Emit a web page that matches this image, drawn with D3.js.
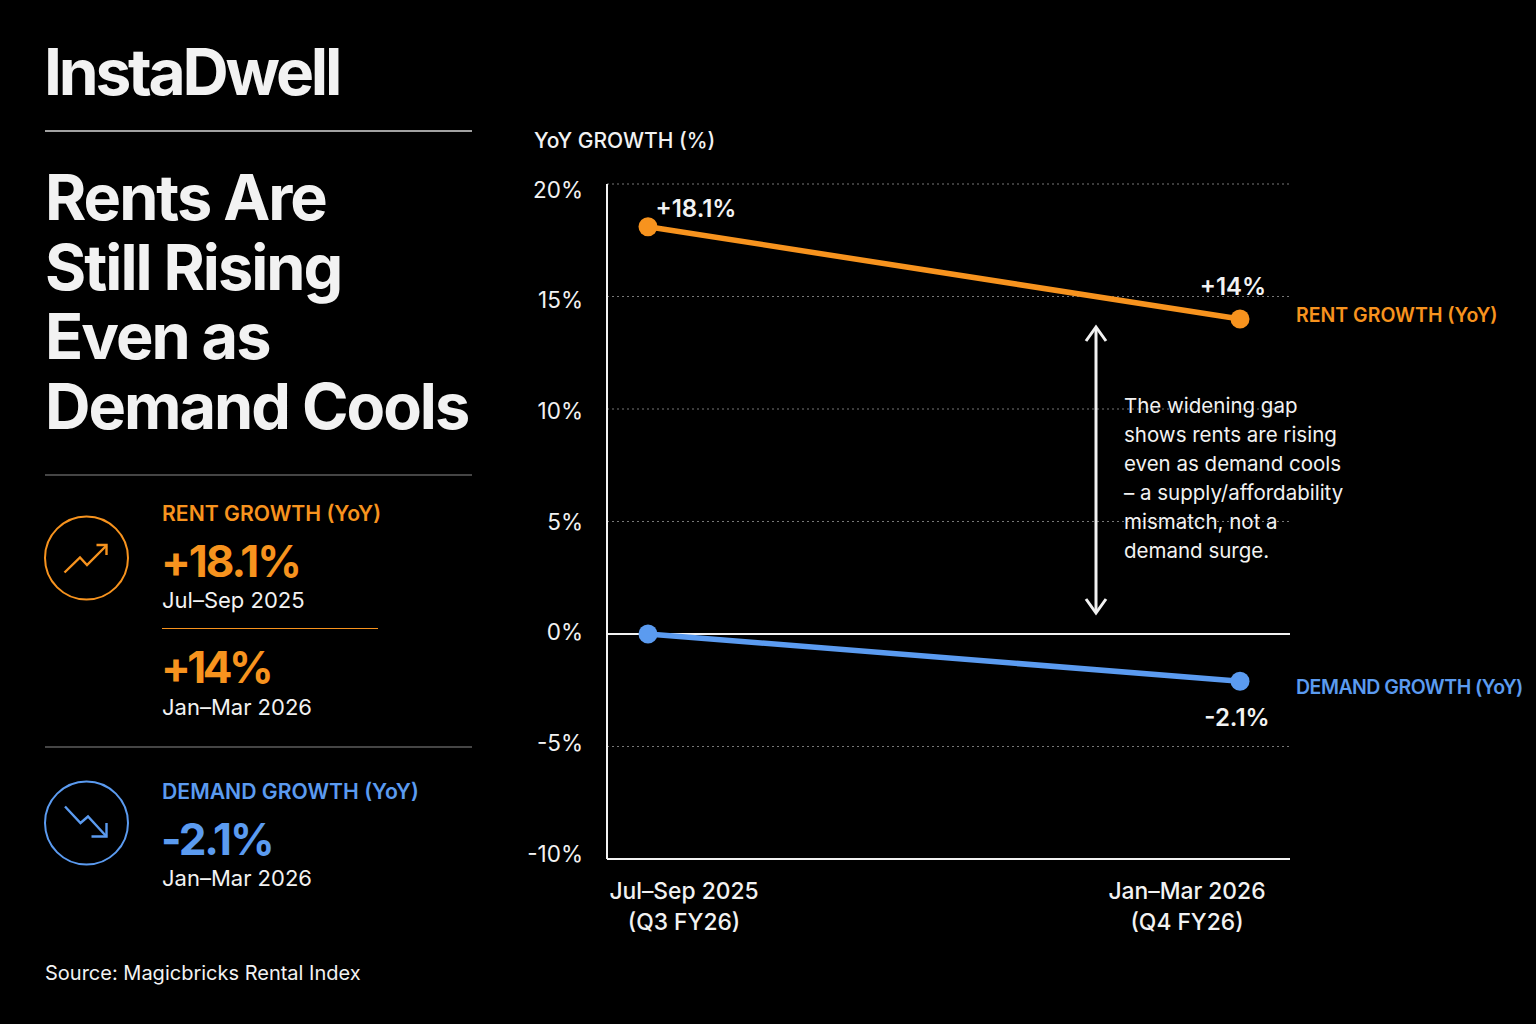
<!DOCTYPE html>
<html><head><meta charset="utf-8">
<script src="https://cdn.jsdelivr.net/npm/d3@7"></script>
<style>
html,body{margin:0;padding:0;background:#000;}
svg{display:block;font-family:Inter,"Noto Sans",sans-serif;}
</style></head>
<body>
<svg id="c" width="1536" height="1024"></svg>
<script>
// ---- data ----
const categories = ["Jul–Sep 2025", "Jan–Mar 2026"];
const categorySub = ["(Q3 FY26)", "(Q4 FY26)"];
const rentGrowth = [18.1, 14];
const demandGrowth = [0, -2.1];
const rentLabels = ["+18.1%", "+14%"];
const demandLabels = ["", "-2.1%"];
const yTicks = [-10, -5, 0, 5, 10, 15, 20];
const noteLines = ["The widening gap", "shows rents are rising", "even as demand cools",
  "– a supply/affordability", "mismatch, not a", "demand surge."];

const ORANGE = "#F7931E", BLUE = "#5B9BF0", WHITE = "#F2F2F2";
const svg = d3.select("#c");
svg.append("rect").attr("width",1536).attr("height",1024).attr("fill","#000");

// ---- left panel ----
const L = svg.append("g");
L.append("text").attr("x",44).attr("y",95).attr("fill",WHITE).attr("font-size",64)
  .attr("font-weight",700).attr("letter-spacing",-3.2).text("InstaDwell");
L.append("line").attr("x1",45).attr("x2",472).attr("y1",131).attr("y2",131).attr("stroke","#d8d8d8").attr("stroke-width",1.5);
["Rents Are","Still Rising","Even as","Demand Cools"].forEach((t,i)=>{
  L.append("text").attr("x",45).attr("y",220+i*69.5).attr("fill",WHITE).attr("font-size",63)
   .attr("font-weight",700).attr("letter-spacing",-2.0).text(t);
});
L.append("line").attr("x1",45).attr("x2",472).attr("y1",475).attr("y2",475).attr("stroke","#8a8a8a").attr("stroke-width",1);
L.append("line").attr("x1",45).attr("x2",472).attr("y1",747).attr("y2",747).attr("stroke","#8a8a8a").attr("stroke-width",1);

// icons
function icon(cx,cy,color,pts,head){
  L.append("circle").attr("cx",cx).attr("cy",cy).attr("r",41.5).attr("fill","none").attr("stroke",color).attr("stroke-width",2);
  L.append("polyline").attr("points",pts.map(p=>p.join(",")).join(" ")).attr("fill","none").attr("stroke",color).attr("stroke-width",2.4).attr("stroke-linejoin","miter");
  L.append("polyline").attr("points",head.map(p=>p.join(",")).join(" ")).attr("fill","none").attr("stroke",color).attr("stroke-width",2.4);
}
icon(86.5,558,ORANGE,[[64.5,572.5],[80,557.5],[87,565],[106.5,545.5]],[[96.5,545],[106.5,545],[106.5,555]]);
icon(86.5,823,BLUE,[[65,806.5],[80.5,823],[88,816.5],[106.5,836.5]],[[91.5,836.5],[106.5,836.5],[106.5,823]]);

function t(x,y,s,txt,o){o=o||{};
  return L.append("text").attr("x",x).attr("y",y).attr("fill",o.fill||WHITE).attr("font-size",s)
   .attr("font-weight",o.w||400).attr("letter-spacing",o.ls||0).text(txt);}
t(162,521,21.2,"RENT GROWTH (YoY)",{fill:ORANGE,w:600});
t(161,577,44,"+18.1%",{fill:ORANGE,w:700,ls:-2});
t(162,608,22,"Jul–Sep 2025");
L.append("line").attr("x1",162).attr("x2",378).attr("y1",628.5).attr("y2",628.5).attr("stroke",ORANGE).attr("stroke-width",1);
t(161,683,44,"+14%",{fill:ORANGE,w:700,ls:-3.5});
t(162,715,22,"Jan–Mar 2026");
t(162,799,21.2,"DEMAND GROWTH (YoY)",{fill:BLUE,w:600});
t(161,855,44,"-2.1%",{fill:BLUE,w:700,ls:-2});
t(162,886,22,"Jan–Mar 2026");
t(45,980,20,"Source: Magicbricks Rental Index");

// ---- chart ----
const y = d3.scaleLinear().domain([-10,20]).range([859,184]);
const yLab = d3.scaleLinear().domain([-10,20]).range([854,190]);
const x = d3.scalePoint().domain(categories).range([648,1240]);
const xLab = d3.scalePoint().domain(categories).range([684,1187]);
const X0 = 607, X1 = 1290;
const C = svg.append("g");

C.append("text").attr("x",534).attr("y",148).attr("fill",WHITE).attr("font-size",21).attr("font-weight",500).text("YoY GROWTH (%)");

// gridlines
C.selectAll(".grid").data(yTicks.filter(d=>d!==0 && d!==-10)).enter().append("line")
  .attr("x1",X0).attr("x2",X1).attr("y1",d=>y(d)).attr("y2",d=>y(d))
  .attr("stroke","#777").attr("stroke-width",1).attr("stroke-dasharray","2,3");
// zero & bottom
C.append("line").attr("x1",X0).attr("x2",X1).attr("y1",y(0)).attr("y2",y(0)).attr("stroke",WHITE).attr("stroke-width",1.8);
C.append("line").attr("x1",X0).attr("x2",X1).attr("y1",y(-10)).attr("y2",y(-10)).attr("stroke",WHITE).attr("stroke-width",2);
C.append("line").attr("x1",X0).attr("x2",X0).attr("y1",y(20)).attr("y2",y(-10)).attr("stroke",WHITE).attr("stroke-width",2);

// y axis labels via d3 axis
const yAxis = C.append("g").attr("transform",`translate(${X0},0)`)
  .call(d3.axisLeft(yLab).tickValues(yTicks).tickFormat(d=>d+"%").tickSize(0).tickPadding(24));
yAxis.select(".domain").remove();
yAxis.selectAll("text").attr("fill",WHITE).attr("font-size",22.5).attr("font-family","Inter");

// x axis labels
const xg = C.append("g");
categories.forEach((c,i)=>{
  const tx = xg.append("text").attr("x",xLab(c)).attr("text-anchor","middle").attr("fill",WHITE).attr("font-size",22.8).attr("font-weight",500);
  tx.append("tspan").attr("x",xLab(c)).attr("y",899).text(c);
  tx.append("tspan").attr("x",xLab(c)).attr("y",930).text(categorySub[i]);
});

// annotation arrow
const ax = 1096, ay1 = 327, ay2 = 613;
C.append("line").attr("x1",ax).attr("x2",ax).attr("y1",ay1+1).attr("y2",ay2-1).attr("stroke",WHITE).attr("stroke-width",3);
C.append("polyline").attr("points",`${ax-10},${ay1+14} ${ax},${ay1} ${ax+10},${ay1+14}`).attr("fill","none").attr("stroke",WHITE).attr("stroke-width",3);
C.append("polyline").attr("points",`${ax-10},${ay2-14} ${ax},${ay2} ${ax+10},${ay2-14}`).attr("fill","none").attr("stroke",WHITE).attr("stroke-width",3);
noteLines.forEach((s,i)=>{
  C.append("text").attr("x",1124).attr("y",413+i*29).attr("fill",WHITE).attr("font-size",20.5).text(s);
});

// lines
const line = d3.line().x((d,i)=>x(categories[i])).y(d=>y(d));
function series(vals,color,labels,labDy,name,nameDy,nameLs){
  C.append("path").datum(vals).attr("d",line).attr("fill","none").attr("stroke",color).attr("stroke-width",5.5).attr("stroke-linecap","round");
  C.selectAll(null).data(vals).enter().append("circle").attr("cx",(d,i)=>x(categories[i])).attr("cy",d=>y(d)).attr("r",9.5).attr("fill",color);
  C.selectAll(null).data(vals).enter().append("text")
    .attr("x",(d,i)=>x(categories[i])+labDy[i][0]).attr("y",(d,i)=>y(d)+labDy[i][1])
    .attr("text-anchor","middle").attr("fill",WHITE).attr("font-size",24).attr("font-weight",600)
    .text((d,i)=>labels[i]);
  C.append("text").attr("x",1296).attr("y",y(vals[vals.length-1])+nameDy).attr("fill",color)
    .attr("font-size",19.5).attr("font-weight",600).attr("letter-spacing",nameLs).text(name);
}
series(rentGrowth,ORANGE,rentLabels,[[48,-10],[-7,-24]],"RENT GROWTH (YoY)",3,0);
series(demandGrowth,BLUE,demandLabels,[[0,0],[-3,45]],"DEMAND GROWTH (YoY)",13,-0.5);
</script>
</body></html>
